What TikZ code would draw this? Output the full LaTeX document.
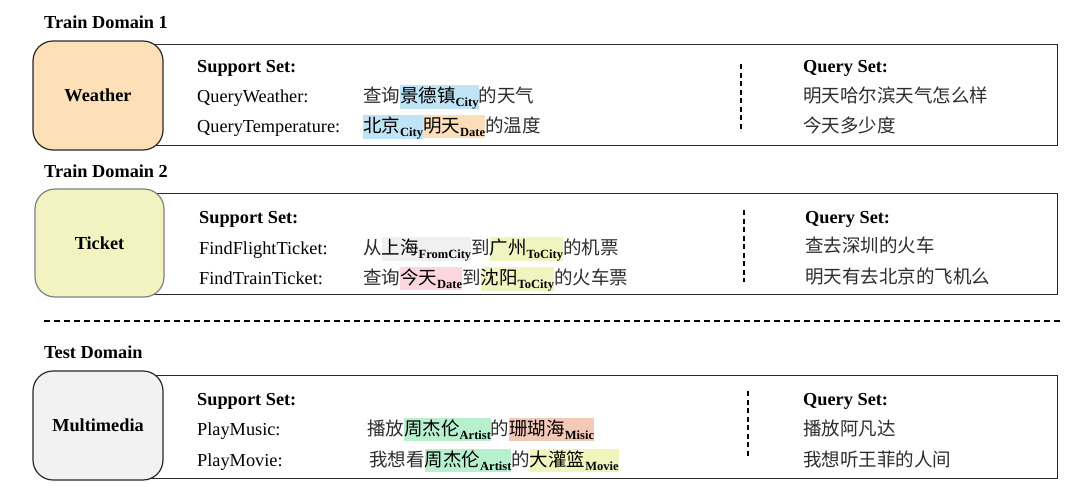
\documentclass[tikz,border=0pt]{standalone}
\usepackage{fontspec}
\setmainfont{Liberation Serif}
\newfontfamily\cjk{Noto Sans CJK SC}
\definecolor{cityc}{RGB}{190,228,246}
\definecolor{datec}{RGB}{253,222,186}
\definecolor{fromc}{RGB}{240,240,240}
\definecolor{toc}{RGB}{240,245,192}
\definecolor{datepk}{RGB}{252,216,222}
\definecolor{artc}{RGB}{184,240,206}
\definecolor{musc}{RGB}{242,200,182}
\definecolor{movc}{RGB}{240,245,190}
\definecolor{wfill}{RGB}{253,223,184}
\definecolor{tfill}{RGB}{242,243,193}
\definecolor{mfill}{RGB}{242,242,242}
\definecolor{edgec}{RGB}{40,40,40}
\definecolor{zhc}{RGB}{45,45,45}
\newcommand\zh[1]{{\fontsize{18.5}{22}\cjk\color{zhc}#1}}
\newcommand\hlt[3]{{\setlength{\fboxsep}{0pt}\colorbox{#1}{\rule[-5.5pt]{0pt}{22.5pt}{\fontsize{18.5}{22}\cjk #2}\raisebox{-4pt}{\fontsize{12.5}{12}\selectfont\bfseries #3}}}}
\begin{document}
\begin{tikzpicture}[x=1pt,y=-1pt,
  base/.style={inner sep=0pt,anchor=base west,font=\fontsize{18.3}{21}\selectfont},
  title/.style={base,font=\fontsize{18.3}{21}\selectfont\bfseries},
  lab/.style={base},
  head/.style={base,font=\fontsize{18.3}{21}\selectfont\bfseries},
  dombox/.style={draw=edgec,line width=1.2pt,rounded corners=20pt,inner sep=0pt,font=\fontsize{18.3}{21}\selectfont\bfseries},
  setrect/.style={draw=edgec,line width=1.2pt,inner sep=0pt,anchor=north west},
  vdash/.style={draw=black,line width=1.1pt,dash pattern=on 5pt off 3.5pt},
  hdash/.style={draw=black,line width=1.1pt,dash pattern=on 6pt off 4pt}]
\useasboundingbox (0,0) rectangle (1080,501);

% ---------- Train Domain 1 ----------
\node[title] (t1) at (44,28) {Train Domain 1};
\node[setrect,minimum width=927pt,minimum height=101pt] (r1) at (130,44) {};
\node[dombox,fill=wfill,minimum width=130pt,minimum height=109pt] (w) at (98,95.5) {Weather};
\draw[vdash] (741,64) -- (741,132);
\node[head] (s1) at (197,72) {Support Set:};
\node[lab] (a1) at (197,102) {QueryWeather:};
\node[lab] (a2) at (197,132) {QueryTemperature:};
\node[base] (z1) at (363,102) {\zh{查询}\hlt{cityc}{景德镇}{City}\zh{的天气}};
\node[base] (z2) at (363,132) {\hlt{cityc}{北京}{City}\hlt{datec}{明天}{Date}\zh{的温度}};
\node[head] (q1) at (803,72) {Query Set:};
\node[base] (q1a) at (803,102) {\zh{明天哈尔滨天气怎么样}};
\node[base] (q1b) at (803,132) {\zh{今天多少度}};

% ---------- Train Domain 2 ----------
\node[title] (t2) at (44,177) {Train Domain 2};
\node[setrect,minimum width=927pt,minimum height=101pt] (r2) at (130,193) {};
\node[dombox,draw=gray,fill=tfill,minimum width=129pt,minimum height=108pt] (t) at (99.5,243) {Ticket};
\draw[vdash] (744,210) -- (744,282);
\node[head] (s2) at (199,223) {Support Set:};
\node[lab] (b1) at (199,254) {FindFlightTicket:};
\node[lab] (b2) at (199,284) {FindTrainTicket:};
\node[base] (y1) at (363,254) {\zh{从}\hlt{fromc}{上海}{FromCity}\zh{到}\hlt{toc}{广州}{ToCity}\zh{的机票}};
\node[base] (y2) at (363,284) {\zh{查询}\hlt{datepk}{今天}{Date}\zh{到}\hlt{toc}{沈阳}{ToCity}\zh{的火车票}};
\node[head] (q2) at (805,223) {Query Set:};
\node[base] (q2a) at (805,252) {\zh{查去深圳的火车}};
\node[base] (q2b) at (805,283) {\zh{明天有去北京的飞机么}};

% ---------- separator ----------
\draw[hdash] (44,321) -- (1062,321);

% ---------- Test Domain ----------
\node[title] (t3) at (44,358) {Test Domain};
\node[setrect,minimum width=927pt,minimum height=103pt] (r3) at (130,375) {};
\node[dombox,fill=mfill,minimum width=130pt,minimum height=109pt] (m) at (98,425.5) {Multimedia};
\draw[vdash] (748,391) -- (748,458);
\node[head] (s3) at (197,405) {Support Set:};
\node[lab] (c1) at (197,435) {PlayMusic:};
\node[lab] (c2) at (197,466) {PlayMovie:};
\node[base] (x1) at (367,435) {\zh{播放}\hlt{artc}{周杰伦}{Artist}\zh{的}\hlt{musc}{珊瑚海}{Misic}};
\node[base] (x2) at (369,466) {\zh{我想看}\hlt{artc}{周杰伦}{Artist}\zh{的}\hlt{movc}{大灌篮}{Movie}};
\node[head] (q3) at (803,405) {Query Set:};
\node[base] (q3a) at (803,435) {\zh{播放阿凡达}};
\node[base] (q3b) at (803,466) {\zh{我想听王菲的人间}};
\end{tikzpicture}
\end{document}
